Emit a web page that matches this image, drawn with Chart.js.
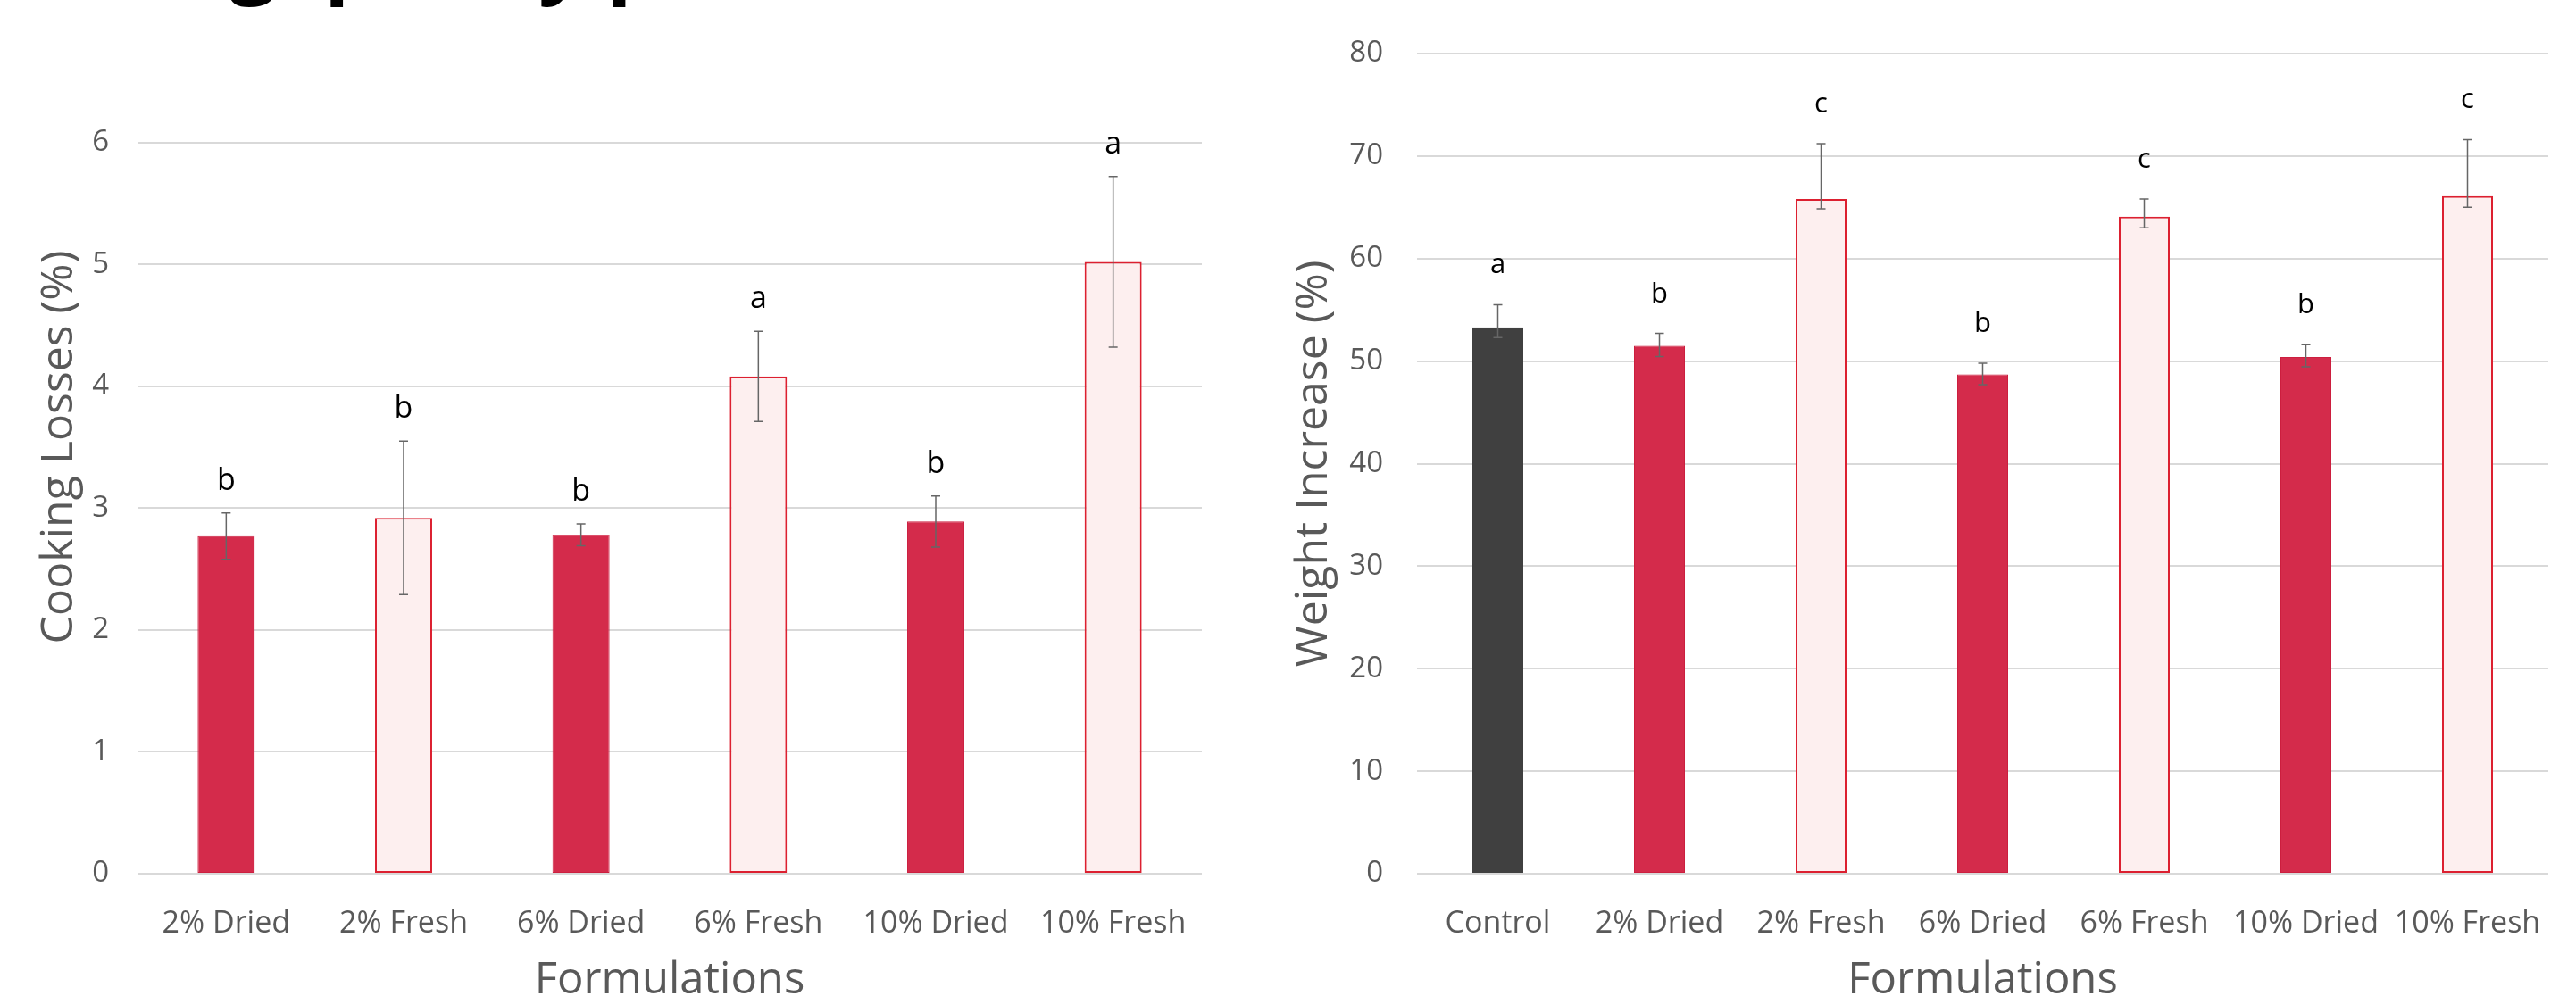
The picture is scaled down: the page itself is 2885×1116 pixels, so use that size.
<!DOCTYPE html>
<html>
<head>
<meta charset="utf-8">
<script src="https://cdn.jsdelivr.net/npm/chart.js@4"></script>
<style>
  html, body { margin: 0; padding: 0; background: #fff; overflow: hidden; }
  #leftBox { position: absolute; left: 0; top: 0; width: 1400px; height: 1116px; }
  #rightBox { position: absolute; left: 1400px; top: 0; width: 1485px; height: 1116px; }
</style>
</head>
<body>
<div id="leftBox"><canvas id="cookingChart" width="1400" height="1116"></canvas></div>
<div id="rightBox"><canvas id="weightChart" width="1485" height="1116"></canvas></div>
<script>
// Cooking losses (left panel)
const cookingLabels = ["2% Dried", "2% Fresh", "6% Dried", "6% Fresh", "10% Dried", "10% Fresh"];
const cookingLosses = [2.77, 2.92, 2.78, 4.08, 2.89, 5.02];
const cookingErr = [0.19, 0.63, 0.09, 0.37, 0.21, 0.7];
const cookingLetters = ["b", "b", "b", "a", "b", "a"];

// Weight increase (right panel)
const weightLabels = ["Control", "2% Dried", "2% Fresh", "6% Dried", "6% Fresh", "10% Dried", "10% Fresh"];
const weightIncrease = [53.3, 51.5, 65.8, 48.7, 64.1, 50.4, 66.1];
const weightErrUp = [2.2, 1.2, 5.4, 1.1, 1.7, 1.2, 5.5];
const weightErrDown = [1.0, 1.05, 0.95, 1.0, 1.1, 0.95, 1.1];
const weightLetters = ["a", "b", "c", "b", "c", "b", "c"];

const pageTitle = "Cooking quality parameters";

const FONT = "'Open Sans', 'Noto Sans', sans-serif";
const GREY = "#595959";

function fillFor(label) {
  if (label === "Control") return "#404040";
  if (label.includes("Dried")) return "#D42B4B";
  return "#FDEFEF";
}
function borderFor(label) {
  if (label === "Control") return "#404040";
  if (label.includes("Dried")) return "#CC1F3F";
  return "#DC2030";
}

// error bars + significance letters
const errorBars = {
  id: "errorBars",
  afterDatasetsDraw(chart, args, opts) {
    const { ctx } = chart;
    const x = chart.scales.x, y = chart.scales.y;
    const vals = chart.data.datasets[0].data;
    ctx.save();
    vals.forEach((v, i) => {
      const px = x.getPixelForValue(i);
      const top = y.getPixelForValue(v + opts.up[i]);
      const bot = y.getPixelForValue(v - opts.down[i]);
      ctx.strokeStyle = "#666666";
      ctx.lineWidth = 1.5;
      ctx.beginPath();
      ctx.moveTo(px, top); ctx.lineTo(px, bot);
      ctx.moveTo(px - 5, top); ctx.lineTo(px + 5, top);
      ctx.moveTo(px - 5, bot); ctx.lineTo(px + 5, bot);
      ctx.stroke();
      ctx.fillStyle = "#000";
      ctx.font = opts.letterSize + "px " + FONT;
      ctx.textAlign = "center";
      ctx.textBaseline = "alphabetic";
      ctx.fillText(opts.letters[i], px, top - opts.gap);
    });
    ctx.restore();
  }
};

// the page title above is cut off; only its descenders show
const cutTitle = {
  id: "cutTitle",
  afterDraw(chart) {
    const { ctx } = chart;
    ctx.save();
    ctx.fillStyle = "#000";
    ctx.font = "bold 92px " + FONT;
    ctx.textBaseline = "alphabetic";
    ctx.textAlign = "left";
    ctx.fillText(pageTitle, -61, -14);
    ctx.restore();
  }
};

function makeChart(id, labels, values, opts) {
  return new Chart(document.getElementById(id), {
    type: "bar",
    data: {
      labels: labels,
      datasets: [{
        data: values,
        backgroundColor: labels.map(fillFor),
        borderColor: labels.map(borderFor),
        borderWidth: labels.map(l => l.includes("Fresh") ? 2 : 1),
        borderSkipped: false,
        barPercentage: opts.barPct,
        categoryPercentage: 1
      }]
    },
    options: {
      responsive: false,
      animation: false,
      layout: { padding: opts.padding },
      plugins: {
        legend: { display: false },
        tooltip: { enabled: false },
        errorBars: opts.err
      },
      scales: {
        x: {
          grid: { display: false },
          border: { display: false },
          ticks: { color: GREY, font: { family: FONT, size: 34 }, padding: 28, maxRotation: 0, autoSkip: false },
          title: { display: true, text: "Formulations", color: GREY, font: { family: FONT, size: 49, lineHeight: 0.6 }, padding: { top: 0, bottom: 2 } },
          afterFit: s => { s.height = 137; }
        },
        y: {
          min: 0,
          max: opts.max,
          border: { display: false },
          grid: {
            color: c => c.tick.value > opts.lastGrid ? "rgba(0,0,0,0)" : "#D9D9D9",
            lineWidth: 2,
            drawTicks: false
          },
          ticks: {
            stepSize: opts.step,
            color: GREY,
            font: { family: FONT, size: 33 },
            padding: opts.tickPad,
            callback: v => v > opts.lastGrid ? "" : v
          },
          title: { display: true, text: opts.yTitle, color: GREY, font: { family: FONT, size: 50 }, padding: { top: opts.titlePad, bottom: 0 } },
          afterFit: s => { s.width = opts.axisWidth; s.paddingTop = 0; }
        }
      }
    },
    plugins: opts.extra
  });
}

makeChart("cookingChart", cookingLabels, cookingLosses, {
  barPct: 0.322,
  padding: { top: 23, right: 54, bottom: 0, left: 0 },
  max: 7, lastGrid: 6, step: 1,
  tickPad: 32, titlePad: 37, axisWidth: 154,
  yTitle: "Cooking Losses (%)",
  err: { up: cookingErr, down: cookingErr, letters: cookingLetters, gap: 26, letterSize: 34 },
  extra: [errorBars, cutTitle]
});

makeChart("weightChart", weightLabels, weightIncrease, {
  barPct: 0.315,
  padding: { top: 60, right: 31, bottom: 0, left: 0 },
  max: 80, lastGrid: 80, step: 10,
  tickPad: 38, titlePad: 42, axisWidth: 187,
  yTitle: "Weight Increase (%)",
  err: { up: weightErrUp, down: weightErrDown, letters: weightLetters, gap: 35, letterSize: 31 },
  extra: [errorBars]
});
</script>
</body>
</html>
